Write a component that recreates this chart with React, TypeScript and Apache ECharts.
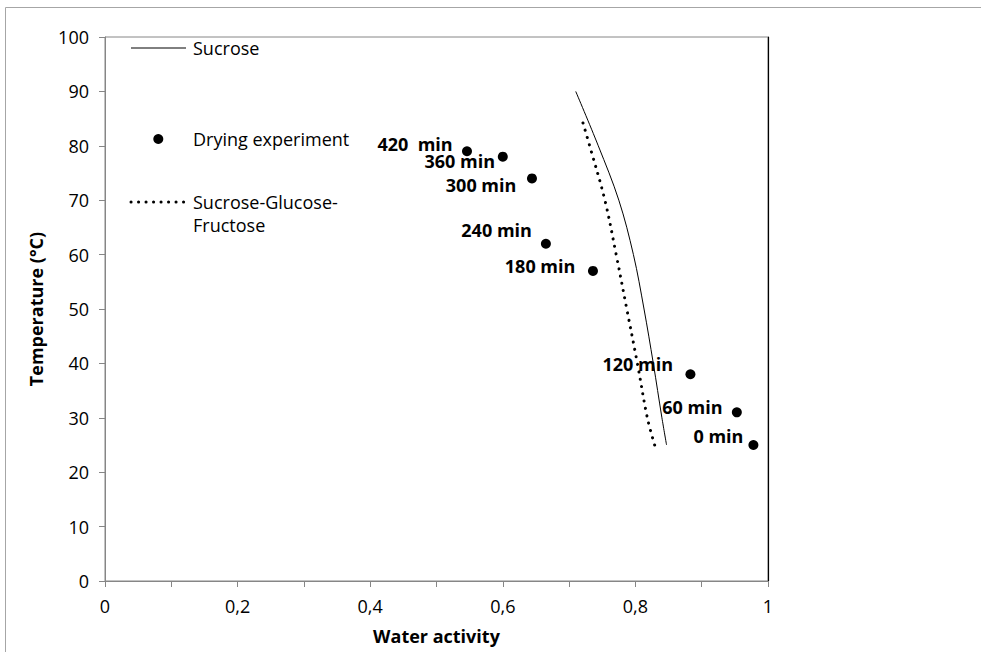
import React, { useEffect, useRef } from "react";
import * as echarts from "echarts";

// Sucrose curve (water activity, temperature °C)
const sucroseAw = [0.847, 0.840, 0.827, 0.813, 0.797, 0.775, 0.744, 0.710];
const sucroseT = [25, 30, 40, 50, 60, 70, 80, 90];

// Sucrose-Glucose-Fructose curve
const sgfAw = [0.829, 0.818, 0.803, 0.787, 0.771, 0.754, 0.731, 0.719];
const sgfT = [25, 30, 40, 50, 60, 70, 80, 85];

// Drying experiment points
const dryAw = [0.978, 0.953, 0.883, 0.736, 0.665, 0.644, 0.600, 0.546];
const dryT = [25, 31, 38, 57, 62, 74, 78, 79];
const dryLabels = ["0 min", "60 min", "120 min", "180 min", "240 min", "300 min", "360 min", "420  min"];

// label nudges (style only)
const labelOffsets = [
  [-5, -9.5],
  [-9.3, -5.6],
  [-12.4, -9.8],
  [-12.6, -4.5],
  [-9, -13.8],
  [-10.6, 6.3],
  [-2.7, 4],
  [-9.3, -7.5],
];

const xTicks = [0, 0.2, 0.4, 0.6, 0.8, 1];

const FONT = "'Open Sans', 'Noto Sans', sans-serif";

export default function App() {
  const ref = useRef<HTMLDivElement>(null);

  useEffect(() => {
    if (!ref.current) return;
    const chart = echarts.init(ref.current, undefined, { renderer: "svg" });
    const axisGray = "#868686";

    const option: any = {
      animation: false,
      backgroundColor: "#ffffff",
      textStyle: { fontFamily: FONT },
      grid: {
        left: 105,
        top: 37,
        width: 663,
        height: 544,
        show: true,
        borderColor: axisGray,
        borderWidth: 1,
        containLabel: false,
      },
      xAxis: {
        type: "value",
        min: 0,
        max: 1,
        interval: 0.1,
        name: "Water activity",
        nameLocation: "middle",
        nameGap: 46,
        nameTextStyle: { fontFamily: FONT, fontSize: 18, fontWeight: "bold", color: "#000" },
        axisLine: { show: true, lineStyle: { color: axisGray, width: 1 } },
        axisTick: { show: true, inside: false, length: 6, lineStyle: { color: axisGray } },
        splitLine: { show: false },
        axisLabel: {
          margin: 16,
          fontFamily: FONT,
          fontSize: 18,
          color: "#000",
          formatter: (v: number) => {
            const hit = xTicks.find((t) => Math.abs(t - v) < 1e-6);
            return hit === undefined ? "" : String(hit).replace(".", ",");
          },
        },
      },
      yAxis: [
        {
          type: "value",
          min: 0,
          max: 100,
          interval: 10,
          name: "Temperature (°C)",
          nameLocation: "middle",
          nameGap: 60,
          nameTextStyle: { fontFamily: FONT, fontSize: 18, fontWeight: "bold", color: "#000" },
          axisLine: { show: true, lineStyle: { color: axisGray, width: 1 } },
          axisTick: { show: true, inside: false, length: 6, lineStyle: { color: axisGray } },
          splitLine: { show: false },
          axisLabel: { margin: 16, fontFamily: FONT, fontSize: 18, color: "#000" },
        },
        {
          type: "value",
          min: 0,
          max: 100,
          interval: 10,
          position: "right",
          axisLine: { show: true, lineStyle: { color: "#000", width: 1.2 } },
          axisTick: { show: false },
          axisLabel: { show: false },
          splitLine: { show: false },
        },
      ],
      graphic: [
        {
          type: "rect",
          shape: { x: 5.5, y: 7.5, width: 1000, height: 700 },
          style: { fill: "none", stroke: "#a6a6a6", lineWidth: 1 },
          silent: true,
        },
        {
          type: "line",
          shape: { x1: 131, y1: 48, x2: 186, y2: 48 },
          style: { stroke: "#000", lineWidth: 1 },
        },
        {
          type: "text",
          x: 193,
          y: 48,
          style: { text: "Sucrose", font: `18px ${FONT}`, fill: "#000", verticalAlign: "middle" },
        },
        {
          type: "circle",
          shape: { cx: 158.3, cy: 139, r: 5 },
          style: { fill: "#000" },
        },
        {
          type: "text",
          x: 193,
          y: 139,
          style: { text: "Drying experiment", font: `18px ${FONT}`, fill: "#000", verticalAlign: "middle" },
        },
        {
          type: "line",
          shape: { x1: 131, y1: 202, x2: 184, y2: 202 },
          style: { stroke: "#000", lineWidth: 3, lineDash: [0.1, 7.4], lineCap: "round" },
        },
        {
          type: "text",
          x: 193,
          y: 202,
          style: { text: "Sucrose-Glucose-", font: `18px ${FONT}`, fill: "#000", verticalAlign: "middle" },
        },
        {
          type: "text",
          x: 193,
          y: 225,
          style: { text: "Fructose", font: `18px ${FONT}`, fill: "#000", verticalAlign: "middle" },
        },
      ],
      series: [
        {
          name: "Sucrose",
          type: "line",
          data: sucroseAw.map((a, i) => [a, sucroseT[i]]),
          showSymbol: false,
          symbol: "none",
          smooth: 0.35,
          lineStyle: { color: "#000", width: 1 },
          z: 3,
        },
        {
          name: "Sucrose-Glucose-Fructose",
          type: "line",
          data: sgfAw.map((a, i) => [a, sgfT[i]]),
          showSymbol: false,
          symbol: "none",
          smooth: 0.35,
          lineStyle: { color: "#000", width: 3, type: [0.1, 7.4], cap: "round" },
          z: 3,
        },
        {
          name: "Drying experiment",
          type: "scatter",
          symbol: "circle",
          symbolSize: 10,
          itemStyle: { color: "#000", opacity: 1 },
          data: dryAw.map((a, i) => ({
            value: [a, dryT[i]],
            label: { offset: labelOffsets[i] },
          })),
          label: {
            show: true,
            position: "left",
            distance: 0,
            formatter: (p: any) => dryLabels[p.dataIndex],
            fontFamily: FONT,
            fontSize: 18,
            fontWeight: "bold",
            color: "#000",
          },
          z: 4,
        },
      ],
    };

    chart.setOption(option);
    return () => chart.dispose();
  }, []);

  return (
    <div
      ref={ref}
      style={{ position: "fixed", left: 0, top: 0, width: 981, height: 652 }}
    />
  );
}
